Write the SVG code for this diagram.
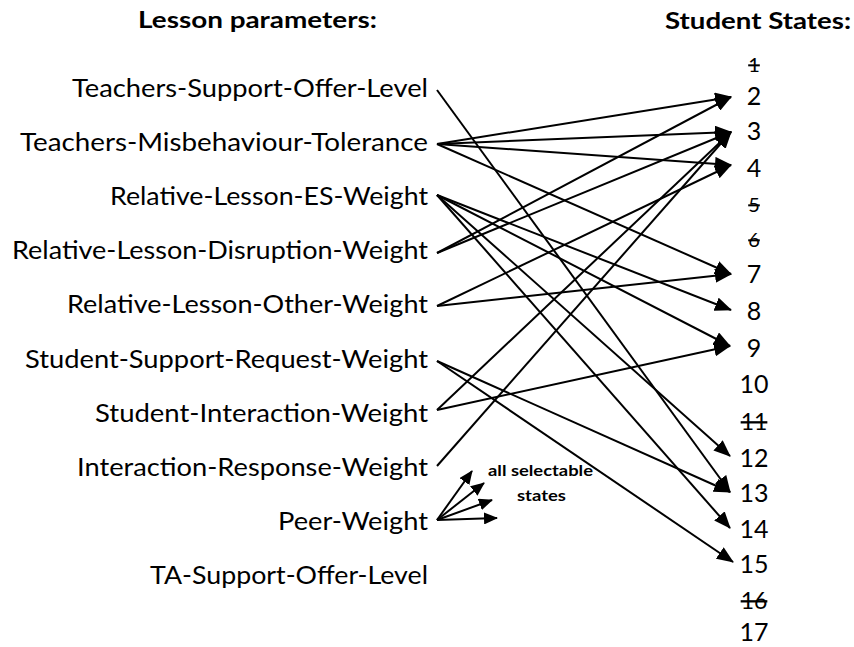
<svg xmlns="http://www.w3.org/2000/svg" width="854" height="647" viewBox="0 0 854 647">
<style>
  text { font-family: Lato, "Open Sans", "Liberation Sans", sans-serif; fill: #000; }
  .hdr { font-size: 23px; font-weight: bold; }
  .lbl { font-size: 25px; text-anchor: end; }
  .num { font-size: 25px; text-anchor: middle; }
  .num.s { font-size: 20px; text-decoration: line-through; }
  .num.m { font-size: 23px; text-decoration: line-through; }
  .note { font-size: 16px; font-weight: bold; }
  .conn line { stroke: #000; stroke-width: 2; fill: none; marker-end: url(#ah); }
  .conn .peer line { marker-end: url(#ahs); }
</style>
<defs>
  <marker id="ah" markerUnits="userSpaceOnUse" viewBox="0 0 17 14" markerWidth="17" markerHeight="14" refX="16" refY="7" orient="auto">
    <path d="M0,0 L17,7 L0,14 Z" fill="#000"/>
  </marker>
  <marker id="ahs" markerUnits="userSpaceOnUse" viewBox="0 0 14 12" markerWidth="14" markerHeight="12" refX="13" refY="6" orient="auto">
    <path d="M0,0 L14,6 L0,12 Z" fill="#000"/>
  </marker>
</defs>

<g id="header-lesson"><text class="hdr" x="138" y="28" textLength="239" lengthAdjust="spacingAndGlyphs">Lesson parameters:</text></g>
<g id="header-states"><text class="hdr" x="665" y="29" textLength="186" lengthAdjust="spacingAndGlyphs">Student States:</text></g>

<g id="p-tsol"><text class="lbl" x="428" y="97" textLength="356" lengthAdjust="spacingAndGlyphs">Teachers-Support-Offer-Level</text></g>
<g id="p-tmt"><text class="lbl" x="428" y="151" textLength="408" lengthAdjust="spacingAndGlyphs">Teachers-Misbehaviour-Tolerance</text></g>
<g id="p-rlesw"><text class="lbl" x="428" y="205" textLength="318" lengthAdjust="spacingAndGlyphs">Relative-Lesson-ES-Weight</text></g>
<g id="p-rldw"><text class="lbl" x="428" y="259" textLength="416" lengthAdjust="spacingAndGlyphs">Relative-Lesson-Disruption-Weight</text></g>
<g id="p-rlow"><text class="lbl" x="428" y="313" textLength="361" lengthAdjust="spacingAndGlyphs">Relative-Lesson-Other-Weight</text></g>
<g id="p-ssrw"><text class="lbl" x="428" y="368" textLength="403" lengthAdjust="spacingAndGlyphs">Student-Support-Request-Weight</text></g>
<g id="p-siw"><text class="lbl" x="428" y="422" textLength="333" lengthAdjust="spacingAndGlyphs">Student-Interaction-Weight</text></g>
<g id="p-irw"><text class="lbl" x="428" y="476" textLength="351" lengthAdjust="spacingAndGlyphs">Interaction-Response-Weight</text></g>
<g id="p-pw"><text class="lbl" x="428" y="530" textLength="150" lengthAdjust="spacingAndGlyphs">Peer-Weight</text></g>
<g id="p-tasol"><text class="lbl" x="428" y="584" textLength="278" lengthAdjust="spacingAndGlyphs">TA-Support-Offer-Level</text></g>

<g id="s1"><text class="num s" x="754" y="72">1</text></g>
<g id="s2"><text class="num" x="754" y="105">2</text></g>
<g id="s3"><text class="num" x="754" y="140">3</text></g>
<g id="s4"><text class="num" x="754" y="177">4</text></g>
<g id="s5"><text class="num s" x="754" y="212">5</text></g>
<g id="s6"><text class="num s" x="754" y="247">6</text></g>
<g id="s7"><text class="num" x="754" y="283">7</text></g>
<g id="s8"><text class="num" x="754" y="320">8</text></g>
<g id="s9"><text class="num" x="754" y="357">9</text></g>
<g id="s10"><text class="num" x="754" y="393">10</text></g>
<g id="s11"><text class="num m" x="754" y="430">11</text></g>
<g id="s12"><text class="num" x="754" y="467">12</text></g>
<g id="s13"><text class="num" x="754" y="502">13</text></g>
<g id="s14"><text class="num" x="754" y="538">14</text></g>
<g id="s15"><text class="num" x="754" y="573">15</text></g>
<g id="s16"><text class="num m" x="754" y="609">16</text></g>
<g id="s17"><text class="num" x="754" y="641">17</text></g>

<g id="note-all-selectable">
  <text class="note" x="488" y="476" textLength="105" lengthAdjust="spacingAndGlyphs">all selectable</text>
  <text class="note" x="517" y="501" textLength="49" lengthAdjust="spacingAndGlyphs">states</text>
</g>

<g id="connectors" class="conn">
  <line x1="437" y1="90" x2="730" y2="492"/>
  <line x1="437" y1="144" x2="731" y2="97"/>
  <line x1="437" y1="144" x2="731" y2="132"/>
  <line x1="437" y1="144" x2="731" y2="165"/>
  <line x1="437" y1="144" x2="731" y2="274"/>
  <line x1="437" y1="195" x2="731" y2="310"/>
  <line x1="437" y1="195" x2="730" y2="346"/>
  <line x1="437" y1="195" x2="730" y2="456"/>
  <line x1="437" y1="195" x2="730" y2="528"/>
  <line x1="437" y1="253" x2="731" y2="97"/>
  <line x1="437" y1="253" x2="731" y2="132"/>
  <line x1="437" y1="306" x2="731" y2="165"/>
  <line x1="437" y1="306" x2="731" y2="274"/>
  <line x1="437" y1="361" x2="730" y2="492"/>
  <line x1="437" y1="361" x2="733" y2="562"/>
  <line x1="437" y1="410" x2="731" y2="132"/>
  <line x1="437" y1="410" x2="730" y2="346"/>
  <line x1="437" y1="466" x2="731" y2="132"/>
  <g class="peer">
    <line x1="437" y1="520" x2="472" y2="471"/>
    <line x1="437" y1="520" x2="484" y2="483"/>
    <line x1="437" y1="520" x2="492" y2="500"/>
    <line x1="437" y1="520" x2="497" y2="518"/>
  </g>
</g>
</svg>
